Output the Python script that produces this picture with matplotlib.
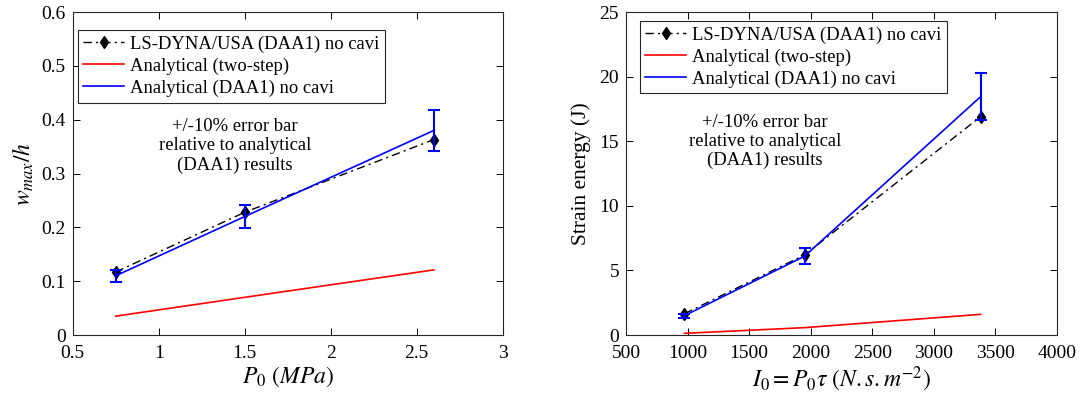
import numpy as np
import matplotlib
matplotlib.use("Agg")
import matplotlib.pyplot as plt

plt.rcParams["font.family"] = "Liberation Serif"
plt.rcParams["mathtext.fontset"] = "stix"
plt.rcParams["font.size"] = 11

# --- left panel: max deflection vs peak pressure ---
p0 = [0.75, 1.5, 2.6]
w_lsdyna = [0.117, 0.228, 0.363]
w_twostep = [0.035, 0.070, 0.121]
w_daa1 = [0.110, 0.220, 0.380]

# --- right panel: strain energy vs impulse ---
i0 = [975, 1950, 3380]
e_lsdyna = [1.65, 6.2, 16.9]
e_twostep = [0.13, 0.57, 1.6]
e_daa1 = [1.5, 6.1, 18.45]

labels = ["LS-DYNA/USA (DAA1) no cavi", "Analytical (two-step)", "Analytical (DAA1) no cavi"]
note = "+/-10% error bar\nrelative to analytical\n(DAA1) results"

fig = plt.figure(figsize=(10.83, 4.03), dpi=100)
axL = fig.add_axes([0.0671, 0.1687, 0.397, 0.8015])
axR = fig.add_axes([0.578, 0.1687, 0.398, 0.8015])


def panel(ax, x, y_ls, y_two, y_daa, xlim, ylim, xticks, yticks, leg_anchor):
    ax.plot(x, y_ls, "k-.", marker="d", ms=6, lw=1.0, dashes=(6, 3, 1.5, 3),
            label=labels[0])
    ax.plot(x, y_two, "r-", lw=1.2, label=labels[1])
    ax.plot(x, y_daa, "b-", lw=1.2, label=labels[2])
    err = 0.1 * np.array(y_daa)
    ax.errorbar(x, y_daa, yerr=err, fmt="none", ecolor="b", elinewidth=1.5,
                capsize=4, capthick=1.5)
    ax.set_xlim(*xlim)
    ax.set_ylim(*ylim)
    ax.set_xticks(xticks)
    ax.set_yticks(yticks)
    ax.tick_params(direction="in", top=True, right=True, labelsize=14,
                   length=5, width=0.7)
    ax.tick_params(axis="x", pad=7)
    ax.tick_params(axis="y", pad=5)
    for s in ax.spines.values():
        s.set_linewidth(0.8)
        s.set_color("#262626")
    leg = ax.legend(loc="upper left", bbox_to_anchor=leg_anchor, fontsize=13.4,
                    fancybox=False, edgecolor="#262626", framealpha=1,
                    handlelength=2.2, borderpad=0.3, labelspacing=0.25,
                    handletextpad=0.3, borderaxespad=0.0)
    leg.get_frame().set_linewidth(0.8)


panel(axL, p0, w_lsdyna, w_twostep, w_daa1, (0.5, 3), (0, 0.6),
      [0.5, 1, 1.5, 2, 2.5, 3], np.arange(0, 0.61, 0.1), (0.012, 0.944))
axL.set_xticklabels(["0.5", "1", "1.5", "2", "2.5", "3"])
axL.set_yticklabels(["0", "0.1", "0.2", "0.3", "0.4", "0.5", "0.6"])
axL.set_xlabel(r"$P_0\ (MPa)$", fontsize=17, labelpad=2)
axL.set_ylabel(r"$w_{max}/h$", fontsize=17, labelpad=4)
axL.text(0.377, 0.585, note, transform=axL.transAxes, ha="center", va="center",
         fontsize=13.4, linespacing=1.15)

panel(axR, i0, e_lsdyna, e_twostep, e_daa1, (500, 4000), (0, 25),
      range(500, 4001, 500), range(0, 26, 5), (0.032, 0.972))
axR.set_xlabel(r"$I_0 = P_0\tau\ (N.s.m^{-2})$", fontsize=17, labelpad=2)
axR.set_ylabel("Strain energy (J)", fontsize=15.5, labelpad=6)
axR.text(0.322, 0.60, note, transform=axR.transAxes, ha="center", va="center",
         fontsize=13.4, linespacing=1.15)

fig.savefig("out.png", dpi=100)
